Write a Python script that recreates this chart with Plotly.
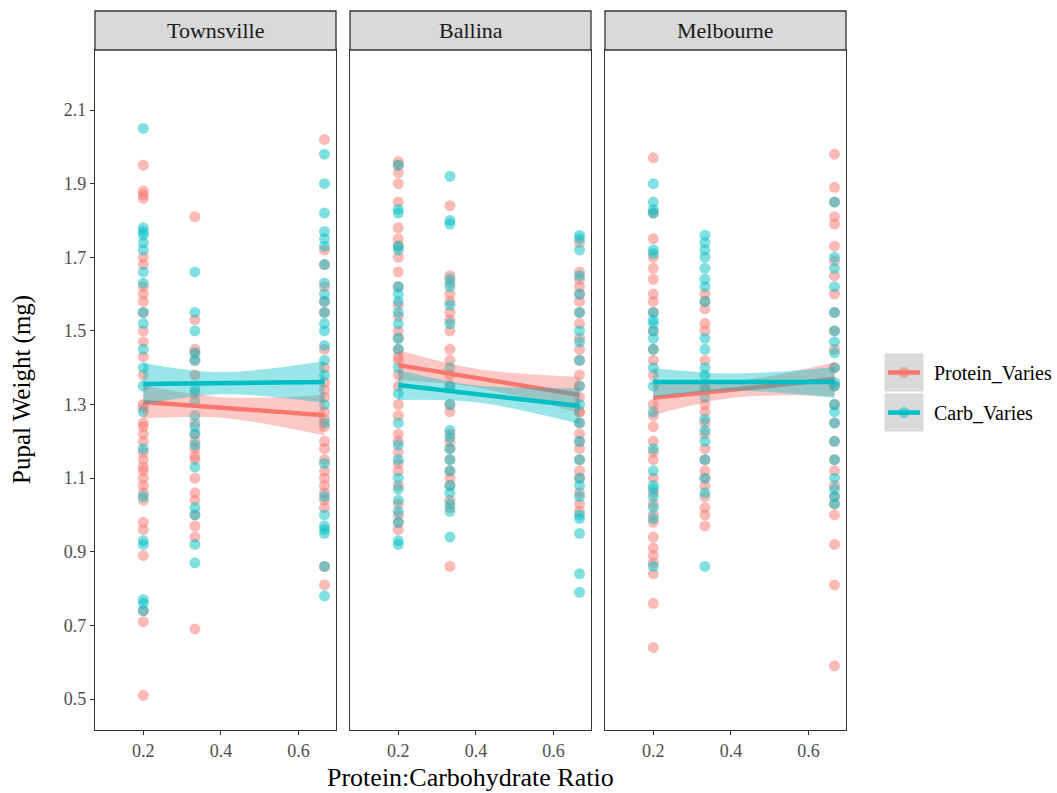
import plotly.graph_objects as go

# ---------------- data ----------------
sites = ["Townsville", "Ballina", "Melbourne"]
treatments = ["Protein_Varies", "Carb_Varies"]
ratios = [0.2, 0.333, 0.667]
x_ticks = [0.2, 0.4, 0.6]
x_tick_labels = ["0.2", "0.4", "0.6"]
y_ticks = [0.5, 0.7, 0.9, 1.1, 1.3, 1.5, 1.7, 1.9, 2.1]
y_tick_labels = ["0.5", "0.7", "0.9", "1.1", "1.3", "1.5", "1.7", "1.9", "2.1"]

# pupal weights (mg) per site / treatment / ratio
townsville_protein_r020 = [1.95, 1.88, 1.87, 1.86, 1.70, 1.68, 1.62, 1.60, 1.58, 1.55, 1.50, 1.47, 1.43, 1.38,
                           1.30, 1.29, 1.25, 1.24, 1.22, 1.20, 1.17, 1.15, 1.13, 1.12, 1.10, 1.08, 1.06, 1.04,
                           0.98, 0.96, 0.89, 0.74, 0.71, 0.51]
townsville_protein_r033 = [1.81, 1.53, 1.45, 1.44, 1.42, 1.38, 1.33, 1.25, 1.22, 1.20, 1.18, 1.16, 1.15, 1.10,
                           1.06, 1.04, 1.00, 0.97, 0.94, 0.69]
townsville_protein_r067 = [2.02, 1.72, 1.68, 1.62, 1.58, 1.55, 1.45, 1.40, 1.36, 1.34, 1.32, 1.28, 1.26, 1.24,
                           1.20, 1.18, 1.15, 1.12, 1.10, 1.08, 1.06, 1.04, 1.02, 0.86, 0.81]
townsville_carb_r020 = [2.05, 1.78, 1.77, 1.76, 1.74, 1.72, 1.66, 1.63, 1.55, 1.52, 1.45, 1.40, 1.35, 1.28,
                        1.18, 1.05, 0.93, 0.92, 0.77, 0.76, 0.74]
townsville_carb_r033 = [1.66, 1.55, 1.50, 1.44, 1.42, 1.34, 1.31, 1.27, 1.24, 1.22, 1.19, 1.13, 1.02, 1.00,
                        0.92, 0.87]
townsville_carb_r067 = [1.98, 1.90, 1.82, 1.77, 1.75, 1.73, 1.68, 1.63, 1.60, 1.58, 1.55, 1.52, 1.50, 1.46,
                        1.42, 1.38, 1.30, 1.25, 1.14, 1.05, 1.00, 0.97, 0.96, 0.95, 0.86, 0.78]

ballina_protein_r020 = [1.96, 1.95, 1.93, 1.90, 1.85, 1.78, 1.75, 1.73, 1.70, 1.66, 1.62, 1.57, 1.54, 1.50,
                        1.48, 1.45, 1.43, 1.42, 1.38, 1.35, 1.30, 1.27, 1.22, 1.20, 1.17, 1.14, 1.12, 1.08,
                        1.03, 1.00, 0.98, 0.96]
ballina_protein_r033 = [1.84, 1.65, 1.63, 1.60, 1.58, 1.55, 1.53, 1.50, 1.45, 1.42, 1.38, 1.35, 1.30, 1.28,
                        1.22, 1.20, 1.18, 1.15, 1.12, 1.10, 1.08, 1.04, 1.02, 0.86]
ballina_protein_r067 = [1.74, 1.66, 1.64, 1.62, 1.60, 1.58, 1.55, 1.52, 1.48, 1.45, 1.42, 1.38, 1.35, 1.32,
                        1.28, 1.28, 1.25, 1.22, 1.20, 1.18, 1.15, 1.12, 1.10, 1.06, 1.03, 1.01]
ballina_carb_r020 = [1.95, 1.83, 1.82, 1.73, 1.72, 1.62, 1.60, 1.58, 1.55, 1.52, 1.48, 1.45, 1.40, 1.33,
                     1.25, 1.19, 1.15, 1.10, 1.07, 1.04, 1.01, 0.98, 0.93, 0.92]
ballina_carb_r033 = [1.92, 1.80, 1.79, 1.64, 1.62, 1.57, 1.52, 1.40, 1.35, 1.30, 1.23, 1.21, 1.18, 1.15,
                     1.12, 1.08, 1.06, 1.03, 1.01, 0.94]
ballina_carb_r067 = [1.76, 1.75, 1.72, 1.65, 1.60, 1.55, 1.50, 1.47, 1.42, 1.35, 1.30, 1.25, 1.20, 1.15,
                     1.10, 1.08, 1.05, 1.00, 0.99, 0.95, 0.84, 0.79]

melbourne_protein_r020 = [1.97, 1.82, 1.75, 1.70, 1.67, 1.64, 1.60, 1.58, 1.55, 1.50, 1.45, 1.42, 1.38, 1.30,
                          1.27, 1.24, 1.20, 1.17, 1.15, 1.10, 1.06, 1.03, 1.00, 0.98, 0.94, 0.91, 0.89, 0.87,
                          0.84, 0.76, 0.64]
melbourne_protein_r033 = [1.60, 1.58, 1.56, 1.52, 1.50, 1.42, 1.35, 1.30, 1.28, 1.25, 1.22, 1.18, 1.15, 1.12,
                          1.10, 1.08, 1.05, 1.02, 1.00, 0.97]
melbourne_protein_r067 = [1.98, 1.89, 1.85, 1.81, 1.79, 1.73, 1.69, 1.65, 1.60, 1.55, 1.50, 1.45, 1.40, 1.35,
                          1.30, 1.25, 1.20, 1.15, 1.12, 1.08, 1.05, 1.03, 1.00, 0.92, 0.81, 0.59]
melbourne_carb_r020 = [1.90, 1.85, 1.83, 1.82, 1.72, 1.71, 1.55, 1.53, 1.52, 1.50, 1.48, 1.45, 1.40, 1.35,
                       1.28, 1.18, 1.12, 1.08, 1.07, 1.05, 1.02, 0.99, 0.86]
melbourne_carb_r033 = [1.76, 1.74, 1.72, 1.70, 1.67, 1.64, 1.62, 1.58, 1.48, 1.45, 1.40, 1.38, 1.34, 1.32,
                       1.26, 1.23, 1.20, 1.15, 1.10, 1.06, 0.86]
melbourne_carb_r067 = [1.85, 1.70, 1.67, 1.62, 1.55, 1.50, 1.47, 1.44, 1.40, 1.36, 1.35, 1.30, 1.28, 1.25,
                       1.20, 1.15, 1.10, 1.07, 1.05, 1.03]

# linear fits (value at ratio 0.2 and 0.667) and 95% CI bands at band_x
fit_x = [0.2, 0.667]
band_x = [0.2, 0.4, 0.667]
townsville_protein_fit = [1.307, 1.271]
townsville_protein_upper = [1.352, 1.320, 1.326]
townsville_protein_lower = [1.262, 1.264, 1.216]
townsville_carb_fit = [1.356, 1.361]
townsville_carb_upper = [1.413, 1.388, 1.418]
townsville_carb_lower = [1.300, 1.328, 1.304]
ballina_protein_fit = [1.407, 1.326]
ballina_protein_upper = [1.448, 1.397, 1.375]
ballina_protein_lower = [1.366, 1.347, 1.277]
ballina_carb_fit = [1.353, 1.296]
ballina_carb_upper = [1.394, 1.352, 1.345]
ballina_carb_lower = [1.312, 1.306, 1.247]
melbourne_protein_fit = [1.318, 1.369]
melbourne_protein_upper = [1.365, 1.362, 1.415]
melbourne_protein_lower = [1.271, 1.318, 1.323]
melbourne_carb_fit = [1.361, 1.361]
melbourne_carb_upper = [1.399, 1.384, 1.402]
melbourne_carb_lower = [1.320, 1.338, 1.318]

# ---------------- styling ----------------
colors = {"Protein_Varies": "#F8766D", "Carb_Varies": "#00BFC4"}
ribbon = {"Protein_Varies": "rgba(248,118,109,0.4)", "Carb_Varies": "rgba(0,191,196,0.4)"}
FONT = "Liberation Serif"
W, H = 1057, 793
ML, MR, MT, MB = 95, 211, 11, 63
PW, PH = W - ML - MR, H - MT - MB


def px(xp):
    return (xp - ML) / PW


def py(yp):
    return (H - MB - yp) / PH


panel_px = [(95, 336), (350, 591), (605, 846)]
panel_top, strip_top = 50, 11

points = {
    "Townsville": {"Protein_Varies": [townsville_protein_r020, townsville_protein_r033, townsville_protein_r067],
                   "Carb_Varies": [townsville_carb_r020, townsville_carb_r033, townsville_carb_r067]},
    "Ballina": {"Protein_Varies": [ballina_protein_r020, ballina_protein_r033, ballina_protein_r067],
                "Carb_Varies": [ballina_carb_r020, ballina_carb_r033, ballina_carb_r067]},
    "Melbourne": {"Protein_Varies": [melbourne_protein_r020, melbourne_protein_r033, melbourne_protein_r067],
                  "Carb_Varies": [melbourne_carb_r020, melbourne_carb_r033, melbourne_carb_r067]},
}
fits = {
    "Townsville": {"Protein_Varies": (townsville_protein_fit, townsville_protein_upper, townsville_protein_lower),
                   "Carb_Varies": (townsville_carb_fit, townsville_carb_upper, townsville_carb_lower)},
    "Ballina": {"Protein_Varies": (ballina_protein_fit, ballina_protein_upper, ballina_protein_lower),
                "Carb_Varies": (ballina_carb_fit, ballina_carb_upper, ballina_carb_lower)},
    "Melbourne": {"Protein_Varies": (melbourne_protein_fit, melbourne_protein_upper, melbourne_protein_lower),
                  "Carb_Varies": (melbourne_carb_fit, melbourne_carb_upper, melbourne_carb_lower)},
}

fig = go.Figure()

for i, site in enumerate(sites):
    xa = "x" if i == 0 else f"x{i + 1}"
    ya = "y" if i == 0 else f"y{i + 1}"
    # points
    for tr in treatments:
        xs, ys = [], []
        for r, vals in zip(ratios, points[site][tr]):
            xs += [r] * len(vals)
            ys += vals
        fig.add_trace(go.Scatter(x=xs, y=ys, mode="markers", xaxis=xa, yaxis=ya, showlegend=False,
                                 marker=dict(size=11, color=colors[tr], opacity=0.5, line=dict(width=0))))
    # ribbons and lines
    for tr in treatments:
        fit, up, lo = fits[site][tr]
        fig.add_trace(go.Scatter(x=band_x, y=lo, mode="lines", line=dict(width=0, shape="spline"),
                                 xaxis=xa, yaxis=ya, showlegend=False, hoverinfo="skip"))
        fig.add_trace(go.Scatter(x=band_x, y=up, mode="lines", line=dict(width=0, shape="spline"),
                                 fill="tonexty", fillcolor=ribbon[tr],
                                 xaxis=xa, yaxis=ya, showlegend=False, hoverinfo="skip"))
        fig.add_trace(go.Scatter(x=fit_x, y=fit, mode="lines", line=dict(width=4.5, color=colors[tr]),
                                 xaxis=xa, yaxis=ya, showlegend=False))

axis_common = dict(showgrid=False, zeroline=False, showline=True, mirror=True, linecolor="#333333",
                   linewidth=1.3, ticks="outside", ticklen=4, tickwidth=1.3, tickcolor="#333333",
                   tickfont=dict(family=FONT, size=18, color="#4D4D4D"))
layout = dict(width=W, height=H, margin=dict(l=ML, r=MR, t=MT, b=MB),
              paper_bgcolor="white", plot_bgcolor="white", showlegend=False,
              font=dict(family=FONT))
y_dom = [0, py(panel_top)]
for i in range(3):
    xkey = "xaxis" if i == 0 else f"xaxis{i + 1}"
    ykey = "yaxis" if i == 0 else f"yaxis{i + 1}"
    a, b = panel_px[i]
    layout[xkey] = dict(axis_common, domain=[px(a), px(b)], range=[0.0755, 0.6966],
                        tickvals=x_ticks, ticktext=x_tick_labels,
                        anchor="y" if i == 0 else f"y{i + 1}")
    yd = dict(axis_common, domain=y_dom, range=[0.4158, 2.263], tickvals=y_ticks, ticktext=y_tick_labels,
              anchor="x" if i == 0 else f"x{i + 1}")
    if i > 0:
        yd.update(showticklabels=False, ticks="", matches="y")
    layout[ykey] = yd
fig.update_layout(**layout)

shapes = []
annotations = []
for i, site in enumerate(sites):
    a, b = panel_px[i]
    shapes.append(dict(type="rect", xref="paper", yref="paper", x0=px(a), x1=px(b),
                       y0=py(panel_top), y1=py(strip_top), fillcolor="#D9D9D9",
                       line=dict(color="#333333", width=1.3), layer="above"))
    annotations.append(dict(text=site, xref="paper", yref="paper", x=px((a + b) / 2),
                            y=py((panel_top + strip_top) / 2), showarrow=False,
                            font=dict(family=FONT, size=22, color="#1A1A1A"),
                            xanchor="center", yanchor="middle"))

annotations.append(dict(text="Protein:Carbohydrate Ratio", xref="paper", yref="paper",
                        x=px((95 + 846) / 2), y=py(777), showarrow=False,
                        font=dict(family=FONT, size=26, color="black"), xanchor="center", yanchor="middle"))
annotations.append(dict(text="Pupal Weight (mg)", xref="paper", yref="paper", x=px(22),
                        y=py((panel_top + 730) / 2), showarrow=False, textangle=-90,
                        font=dict(family=FONT, size=25, color="black"), xanchor="center", yanchor="middle"))

# legend (drawn manually, ggplot-style key boxes)
for k, tr in enumerate(treatments):
    top = 353 + k * 40
    bot = top + 39
    cy = (top + bot) / 2
    shapes.append(dict(type="rect", xref="paper", yref="paper", x0=px(884), x1=px(924), y0=py(bot), y1=py(top),
                       fillcolor="#D9D9D9", line=dict(color="white", width=1)))
    shapes.append(dict(type="circle", xref="paper", yref="paper", x0=px(898.5), x1=px(909.5),
                       y0=py(cy + 5.5), y1=py(cy - 5.5), fillcolor=colors[tr], opacity=0.5, line=dict(width=0)))
    shapes.append(dict(type="line", xref="paper", yref="paper", x0=px(888), x1=px(920), y0=py(cy), y1=py(cy),
                       line=dict(color=colors[tr], width=4.5)))
    annotations.append(dict(text=tr, xref="paper", yref="paper", x=px(932), y=py(cy), showarrow=False,
                            font=dict(family=FONT, size=20, color="black"), xanchor="left", yanchor="middle"))

fig.update_layout(shapes=shapes, annotations=annotations)
fig.write_html("out.html")
